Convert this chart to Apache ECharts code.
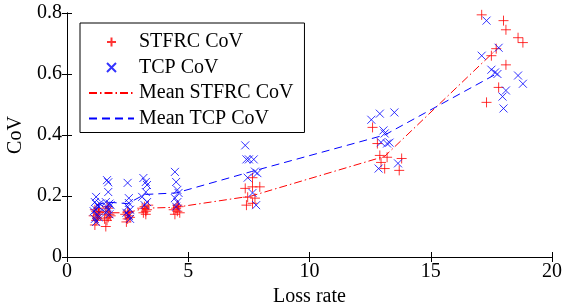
<!DOCTYPE html>
<html>
<head>
<meta charset="utf-8">
<script src="https://cdn.jsdelivr.net/npm/echarts@6/dist/echarts.min.js"></script>
<style>
  html, body { margin: 0; padding: 0; background: #fff; }
  #chart { width: 564px; height: 305px; }
</style>
</head>
<body>
<div id="chart"></div>
<script>
const stfrcX = [
  1.15, 1.2, 1.25, 1.3, 1.2, 1.15, 1.3, 1.25, 1.35, 1.1,
  1.6, 1.65, 1.7, 1.75, 1.6, 1.7, 1.65, 1.8, 1.55,
  2.45, 2.5, 2.55, 2.4, 2.6, 2.5, 2.55,
  3.15, 3.25, 3.3, 3.2, 3.35, 3.1, 3.25,
  4.45, 4.55, 4.5, 4.6, 4.4, 4.55, 4.65,
  7.4, 7.65, 7.45, 7.75, 7.35, 7.65, 7.95, 7.65,
  12.6, 12.8, 12.9, 13.2, 12.95, 13.8, 13.1, 13.7,
  17.1, 18.0, 18.1, 18.6, 18.8, 17.7, 17.5, 18.1, 17.8, 17.3
];
const stfrcY = [
  0.105, 0.12, 0.13, 0.14, 0.15, 0.155, 0.16, 0.125, 0.145, 0.135,
  0.10, 0.12, 0.13, 0.14, 0.15, 0.16, 0.165, 0.135, 0.125,
  0.115, 0.125, 0.135, 0.14, 0.13, 0.15, 0.145,
  0.145, 0.15, 0.155, 0.165, 0.17, 0.16, 0.14,
  0.14, 0.15, 0.16, 0.165, 0.155, 0.17, 0.145,
  0.17, 0.176, 0.196, 0.193, 0.225, 0.23, 0.23, 0.26,
  0.425, 0.372, 0.333, 0.327, 0.31, 0.323, 0.29, 0.284,
  0.794, 0.775, 0.745, 0.719, 0.703, 0.683, 0.66, 0.63, 0.556, 0.507
];
const tcpX = [
  1.2, 1.15, 1.25, 1.3, 1.2, 1.1, 1.25, 1.3, 1.15, 1.2, 1.35,
  1.65, 1.7, 1.7, 1.6, 1.75, 1.65, 1.7, 1.8, 1.6, 1.75,
  2.5, 2.55, 2.55, 2.5, 2.6, 2.45, 2.55, 2.6,
  3.15, 3.25, 3.3, 3.25, 3.1, 3.3, 3.2,
  4.45, 4.5, 4.55, 4.6, 4.45, 4.55, 4.5,
  7.35, 7.4, 7.5, 7.7, 7.75, 7.85, 7.45, 7.65, 7.8,
  12.9, 13.5, 12.55, 13.05, 13.1, 12.95, 13.2, 13.3, 13.65, 12.85,
  17.3, 17.1, 17.8, 17.5, 17.65, 17.75, 18.6, 18.8, 18.1, 17.96, 18.0
];
const tcpY = [
  0.197, 0.18, 0.17, 0.165, 0.155, 0.15, 0.14, 0.13, 0.125, 0.115, 0.175,
  0.252, 0.245, 0.213, 0.18, 0.175, 0.165, 0.155, 0.17, 0.145, 0.14,
  0.243, 0.193, 0.177, 0.165, 0.155, 0.145, 0.135, 0.125,
  0.259, 0.246, 0.236, 0.213, 0.197, 0.18, 0.17,
  0.279, 0.246, 0.22, 0.21, 0.193, 0.18, 0.165,
  0.366, 0.32, 0.32, 0.32, 0.28, 0.275, 0.26, 0.21, 0.17,
  0.47, 0.474, 0.45, 0.415, 0.405, 0.376, 0.372, 0.375, 0.307, 0.29,
  0.775, 0.66, 0.686, 0.614, 0.605, 0.6, 0.595, 0.568, 0.546, 0.526, 0.487
];
const meanX = [1.2, 1.65, 2.5, 3.2, 4.5, 7.6, 13.1, 17.7];
const meanStfrc = [0.15, 0.145, 0.145, 0.16, 0.163, 0.2, 0.33, 0.68];
const meanTcp = [0.17, 0.18, 0.175, 0.205, 0.21, 0.28, 0.40, 0.6];

const xTicks = { min: 0, max: 20, interval: 5 };
const yTicks = { min: 0, max: 0.8, interval: 0.2 };

const font = "Liberation Serif";
const plusPath = "path://M0,5L10,5M5,0L5,10";
const crossPath = "path://M0,0L10,10M0,10L10,0";

const zip = (xs, ys) => xs.map((x, i) => [x, ys[i]]);

const chart = echarts.init(document.getElementById("chart"));

const frameAxis = {
  axisLine: { show: true, lineStyle: { color: "#000", width: 1 } },
  axisTick: { show: true, inside: true, length: 5, lineStyle: { color: "#000" } },
  splitLine: { show: false },
};

chart.setOption({
  animation: false,
  grid: { left: 67, right: 12, top: 13, bottom: 48, containLabel: false, outerBoundsMode: "none" },
  legend: {
    orient: "vertical",
    left: 80,
    top: 23,
    padding: [9, 11, 4, 8],
    itemWidth: 45,
    itemHeight: 9,
    itemGap: 5.5,
    backgroundColor: "#fff",
    borderColor: "#000",
    borderWidth: 1,
    textStyle: { fontFamily: font, fontSize: 20, color: "#000" },
    data: [
      { name: "STFRC CoV" },
      { name: "TCP CoV" },
      { name: "Mean STFRC CoV", itemStyle: { opacity: 0 } },
      { name: "Mean TCP CoV", itemStyle: { opacity: 0 } },
    ],
  },
  xAxis: [
    {
      type: "value",
      ...xTicks,
      ...frameAxis,
      name: "Loss rate",
      nameLocation: "middle",
      nameGap: 26,
      nameTextStyle: { fontFamily: font, fontSize: 20, color: "#000" },
      axisLabel: { fontFamily: font, fontSize: 20, color: "#000", margin: 5 },
    },
    {
      type: "value",
      position: "top",
      ...xTicks,
      ...frameAxis,
      axisLabel: { show: false },
    },
  ],
  yAxis: [
    {
      type: "value",
      ...yTicks,
      ...frameAxis,
      name: "CoV",
      nameLocation: "middle",
      nameGap: 37,
      nameTextStyle: { fontFamily: font, fontSize: 20, color: "#000" },
      axisLabel: {
        fontFamily: font,
        fontSize: 20,
        color: "#000",
        margin: 5,
        formatter: (v) => (v === 0 ? "0" : v.toFixed(1)),
      },
    },
    {
      type: "value",
      position: "right",
      ...yTicks,
      ...frameAxis,
      axisLabel: { show: false },
    },
  ],
  series: [
    {
      name: "STFRC CoV",
      type: "scatter",
      symbol: plusPath,
      symbolSize: 10,
      itemStyle: { color: "rgba(0,0,0,0)", borderColor: "#ff0000", borderWidth: 1 },
      data: zip(stfrcX, stfrcY),
      z: 3,
    },
    {
      name: "TCP CoV",
      type: "scatter",
      symbol: crossPath,
      symbolSize: 8,
      itemStyle: { color: "rgba(0,0,0,0)", borderColor: "#0000ff", borderWidth: 1 },
      data: zip(tcpX, tcpY),
      z: 4,
    },
    {
      name: "Mean STFRC CoV",
      type: "line",
      symbol: "none",
      itemStyle: { color: "#ff0000" },
      lineStyle: { color: "#ff0000", width: 1, type: [8, 3, 1.5, 3] },
      data: zip(meanX, meanStfrc),
      z: 2,
    },
    {
      name: "Mean TCP CoV",
      type: "line",
      symbol: "none",
      itemStyle: { color: "#0000ff" },
      lineStyle: { color: "#0000ff", width: 1, type: [8, 5] },
      data: zip(meanX, meanTcp),
      z: 2,
    },
  ],
});
</script>
</body>
</html>
